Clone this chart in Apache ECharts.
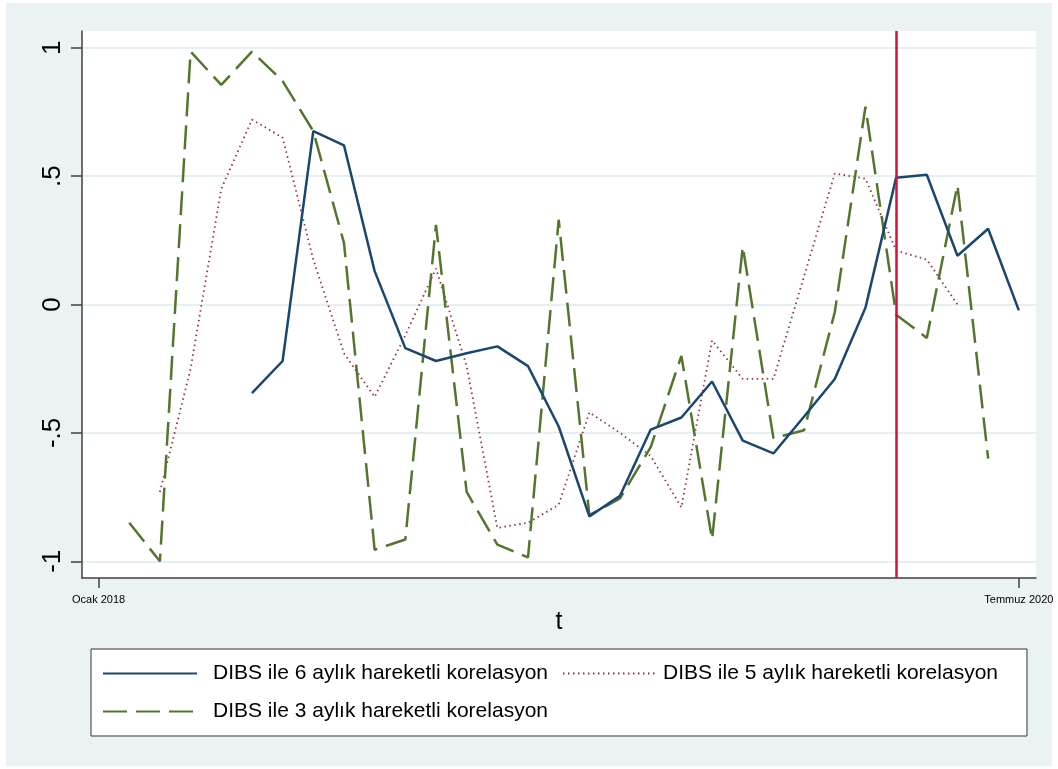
<!DOCTYPE html>
<html>
<head>
<meta charset="utf-8">
<script src="https://cdn.jsdelivr.net/npm/echarts@6/dist/echarts.min.js"></script>
<style>
html,body{margin:0;padding:0;background:#ffffff;}
#chart{width:1058px;height:769px;}
</style>
</head>
<body>
<div id="chart"></div>
<script>
// Months Ocak 2018 (index 0) ... Temmuz 2020 (index 30)
const months = ["Ocak 2018","Şubat 2018","Mart 2018","Nisan 2018","Mayıs 2018","Haziran 2018","Temmuz 2018","Ağustos 2018","Eylül 2018","Ekim 2018","Kasım 2018","Aralık 2018",
  "Ocak 2019","Şubat 2019","Mart 2019","Nisan 2019","Mayıs 2019","Haziran 2019","Temmuz 2019","Ağustos 2019","Eylül 2019","Ekim 2019","Kasım 2019","Aralık 2019",
  "Ocak 2020","Şubat 2020","Mart 2020","Nisan 2020","Mayıs 2020","Haziran 2020","Temmuz 2020"];
const xTickIdx = [0, 30];
const yTicks = [-1, -0.5, 0, 0.5, 1];
const yTickLabels = ["-1", "-.5", "0", ".5", "1"];
const seriesNames = ["DIBS ile 6 aylık hareketli korelasyon", "DIBS ile 5 aylık hareketli korelasyon", "DIBS ile 3 aylık hareketli korelasyon"];

const corr6 = [null,null,null,null,null,-0.345,-0.22,0.675,0.62,0.13,-0.17,-0.22,-0.19,-0.163,-0.24,-0.475,-0.825,-0.745,-0.487,-0.44,-0.30,-0.53,-0.58,-0.436,-0.29,-0.013,0.494,0.505,0.19,0.295,-0.023];
const corr5 = [null,null,-0.73,-0.25,0.45,0.72,0.65,0.175,-0.19,-0.36,-0.12,0.14,-0.24,-0.87,-0.85,-0.78,-0.42,-0.50,-0.59,-0.79,-0.14,-0.29,-0.29,0.11,0.51,0.49,0.21,0.175,0.0,null,null];
const corr3 = [null,-0.85,-1.0,0.985,0.855,0.985,0.87,0.675,0.24,-0.955,-0.915,0.31,-0.73,-0.935,-0.985,0.33,-0.82,-0.755,-0.555,-0.2,-0.915,0.226,-0.52,-0.49,-0.03,0.77,-0.04,-0.13,0.465,-0.6,null];
const eventIdx = 26; // Mart 2020

function pairs(arr){ return arr.map((v,i)=>[i,v]); }

const chart = echarts.init(document.getElementById('chart'), null, {renderer:'canvas'});
const FONT = "'Liberation Sans', Arial, sans-serif";
function legendText(padLeft){ return {fontFamily: FONT, fontSize: 21, color: '#000', padding: [0,0,0,padLeft]}; }
const legendCommon = {padding:0, itemWidth:94, itemHeight:14, selectedMode:false, itemStyle:{opacity:0}};

chart.setOption({
  backgroundColor: '#ffffff',
  animation: false,
  graphic: [
    {type:'rect', z:-10, shape:{x:6,y:3,width:1046,height:763}, style:{fill:'#eaf2f3'}},
    {type:'rect', z:-5, shape:{x:91,y:649,width:936,height:87}, style:{fill:'#ffffff', stroke:'#333333', lineWidth:1}}
  ],
  grid: {left:82, right:22, top:31, bottom:191, show:true, backgroundColor:'#ffffff', borderWidth:0},
  xAxis: {
    type:'value', min:-0.54, max:30.56,
    name:'t', nameLocation:'middle', nameGap:31,
    nameTextStyle:{fontFamily:FONT, fontSize:25, color:'#000'},
    axisLine:{show:true, onZero:false, lineStyle:{color:'#404040', width:1.5}},
    axisTick:{show:true, length:10, customValues:xTickIdx, lineStyle:{color:'#404040', width:1.5}},
    axisLabel:{customValues:xTickIdx, margin:16, fontFamily:FONT, fontSize:11, color:'#000',
      formatter:(v)=>months[Math.round(v)]},
    splitLine:{show:false}
  },
  yAxis: {
    type:'value', min:-1.065, max:1.065,
    axisLine:{show:true, onZero:false, lineStyle:{color:'#404040', width:1.5}},
    axisTick:{show:true, length:11, customValues:yTicks, lineStyle:{color:'#404040', width:1.5}},
    axisLabel:{customValues:yTicks, rotate:90, margin:16, fontFamily:FONT, fontSize:26, color:'#000',
      formatter:(v)=>{const k=yTicks.findIndex(t=>Math.abs(t-v)<1e-6); return k>=0?yTickLabels[k]:'';}},
    splitLine:{show:true, lineStyle:{color:'#e6eff1', width:2}}
  },
  legend: [
    Object.assign({data:[seriesNames[0]], left:102, top:663, textStyle:legendText(11)}, legendCommon),
    Object.assign({data:[seriesNames[1]], left:562, top:663, textStyle:legendText(1)}, legendCommon),
    Object.assign({data:[seriesNames[2]], left:102, top:701, textStyle:legendText(11)}, legendCommon)
  ],
  series: [
    {name:seriesNames[0], type:'line', data:pairs(corr6), symbol:'none', connectNulls:false,
      lineStyle:{color:'#1a476f', width:2.5, type:'solid'}, itemStyle:{color:'#1a476f'}, z:4,
      markLine:{silent:true, symbol:'none', label:{show:false},
        lineStyle:{color:'#d4103c', width:2.5, type:'solid'}, data:[{xAxis:eventIdx}]}},
    {name:seriesNames[1], type:'line', data:pairs(corr5), symbol:'none',
      lineStyle:{color:'#90353b', width:1.8, type:[1.5,3.5]}, itemStyle:{color:'#90353b'}, z:2},
    {name:seriesNames[2], type:'line', data:pairs(corr3), symbol:'none',
      lineStyle:{color:'#55752f', width:2.5, type:[24,9]}, itemStyle:{color:'#55752f'}, z:3}
  ]
});
</script>
</body>
</html>
